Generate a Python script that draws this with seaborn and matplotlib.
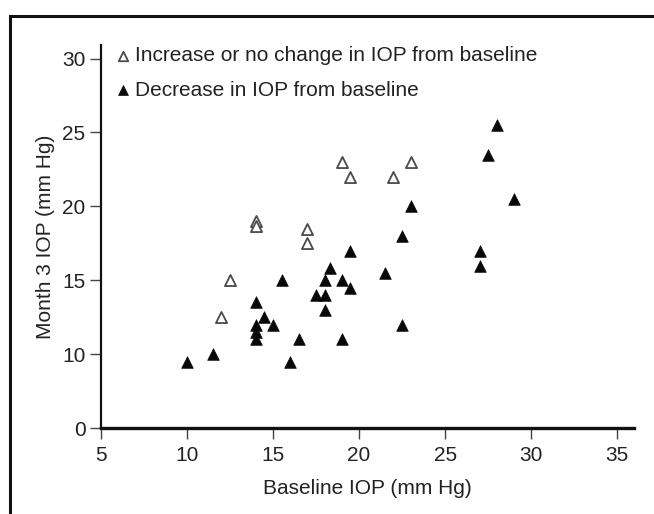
import matplotlib
matplotlib.use("Agg")
import matplotlib.pyplot as plt
import seaborn as sns
import pandas as pd
from matplotlib.patches import Rectangle

# Data
inc_baseline = [12, 12.5, 14, 14, 17, 17, 19, 19.5, 22, 23]
inc_month3 = [12.5, 15, 19, 18.7, 18.5, 17.5, 23, 22, 22, 23]

dec_baseline = [10, 11.5, 14, 14, 14, 14, 14.5, 15, 15.5, 16, 16.5, 17.5, 18, 18,
                18, 18.3, 19, 19, 19.5, 19.5, 21.5, 22.5, 22.5, 23, 27, 27, 27.5, 28, 29]
dec_month3 = [9.5, 10, 13.5, 12, 11.5, 11, 12.5, 12, 15, 9.5, 11, 14, 14, 13,
              15, 15.8, 15, 11, 14.5, 17, 15.5, 18, 12, 20, 17, 16, 23.5, 25.5, 20.5]

x_ticks = [5, 10, 15, 20, 25, 30, 35]
y_ticks = [5, 10, 15, 20, 25, 30]
y_tick_labels = ["0", "10", "15", "20", "25", "30"]

labels = ["Increase or no change in IOP from baseline", "Decrease in IOP from baseline"]

sns.set_theme(style="white")
plt.rcParams["font.family"] = ["Liberation Sans", "DejaVu Sans"]

fig = plt.figure(figsize=(6.54, 5.14), dpi=100)
ax = fig.add_axes([0.154, 0.167, 0.815, 0.745])

inc = pd.DataFrame({"x": inc_baseline, "y": inc_month3})
dec = pd.DataFrame({"x": dec_baseline, "y": dec_month3})

sns.scatterplot(data=inc, x="x", y="y", ax=ax, marker="^", s=64,
                facecolor="white", edgecolor="#4a4a4a", linewidth=1.3, label=labels[0], zorder=3)
sns.scatterplot(data=dec, x="x", y="y", ax=ax, marker="^", s=70,
                color="#080808", edgecolor="#080808", linewidth=0.5, label=labels[1], zorder=3)

ax.set_xlim(5, 35.95)
ax.set_ylim(5, 30.9)
ax.set_xticks(x_ticks)
ax.set_yticks(y_ticks)
ax.set_yticklabels(y_tick_labels)

txt = "#222222"
fs = 15
ax.set_xlabel("Baseline IOP (mm Hg)", fontsize=fs, color=txt, labelpad=10)
ax.set_ylabel("Month 3 IOP (mm Hg)", fontsize=fs, color=txt, labelpad=5)
ax.tick_params(axis="both", direction="out", length=8, width=1, color="#444444",
               labelsize=fs, labelcolor=txt, left=True, bottom=True)
ax.tick_params(axis="x", pad=5)
ax.tick_params(axis="y", pad=3)

for side in ["top", "right"]:
    ax.spines[side].set_visible(False)
ax.spines["left"].set_color("#111111")
ax.spines["left"].set_linewidth(1.6)
ax.spines["bottom"].set_color("#111111")
ax.spines["bottom"].set_linewidth(2.4)

leg = ax.legend(loc="upper left", bbox_to_anchor=(0.0, 1.03), frameon=False, fontsize=fs,
                handletextpad=0.15, handlelength=0.9, labelspacing=0.75, borderaxespad=0.2,
                markerscale=0.85)
for t in leg.get_texts():
    t.set_color(txt)

# outer frame (cut off at right and bottom in the reference)
fig.patches.append(Rectangle((10 / 654, -0.1), 2.0, 1.1 - 16 / 514,
                             transform=fig.transFigure, fill=False,
                             edgecolor="#111111", linewidth=2.2, zorder=0))

fig.savefig("out.png", dpi=100, facecolor="white")
